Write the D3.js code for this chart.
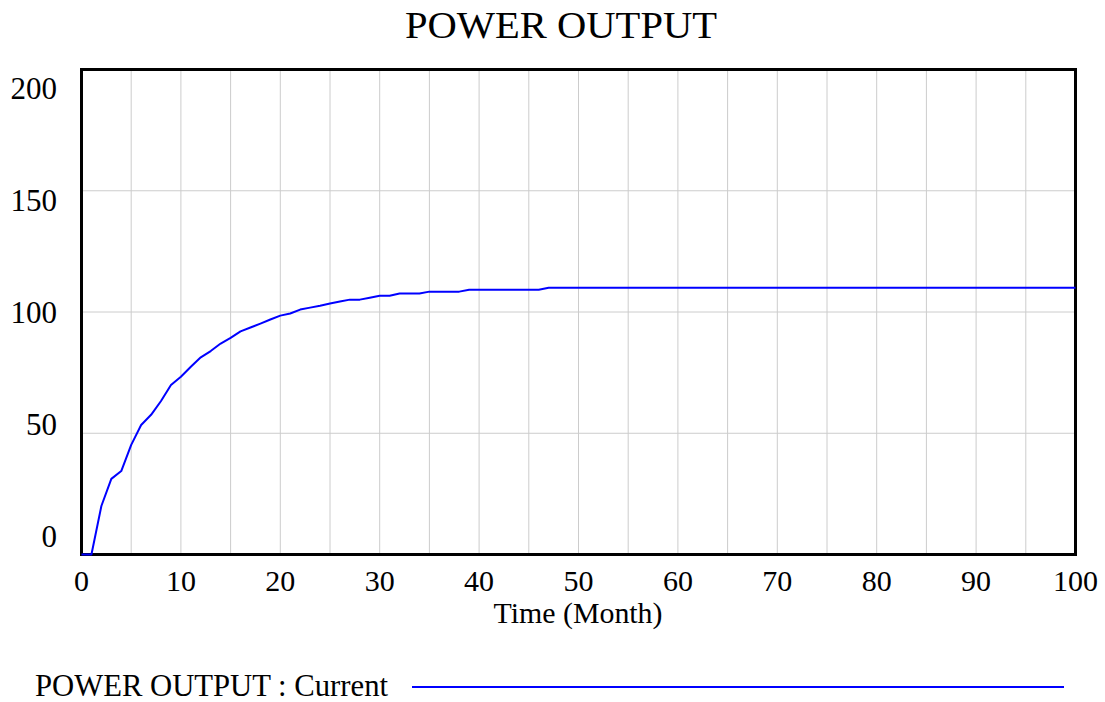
<!DOCTYPE html>
<html>
<head>
<meta charset="utf-8">
<script src="https://cdn.jsdelivr.net/npm/d3@7"></script>
<style>
  html, body { margin: 0; padding: 0; background: #fff; }
  svg { display: block; font-family: "Liberation Serif", "Times New Roman", serif; }
</style>
</head>
<body>
<svg id="chart" width="1105" height="702"></svg>
<script>
// Simulated power output per month (months 0..100)
const months = d3.range(0, 101);
const powerOutput = [
  0, 0, 20, 31.2, 34.4, 45.2, 53.4, 57.6, 63.3, 69.9,
  73.3, 77.4, 81.3, 83.9, 87.0, 89.3, 92.0, 93.6, 95.2, 96.9,
  98.5, 99.4, 101.0, 101.8, 102.6, 103.5, 104.3, 105.1, 105.1, 105.9,
  106.7, 106.7, 107.6, 107.6, 107.6, 108.4, 108.4, 108.4, 108.4, 109.2,
  109.2, 109.2, 109.2, 109.2, 109.2, 109.2, 109.2, 110, 110, 110,
  110, 110, 110, 110, 110, 110, 110, 110, 110, 110,
  110, 110, 110, 110, 110, 110, 110, 110, 110, 110,
  110, 110, 110, 110, 110, 110, 110, 110, 110, 110,
  110, 110, 110, 110, 110, 110, 110, 110, 110, 110,
  110, 110, 110, 110, 110, 110, 110, 110, 110, 110,
  110
];
const xTicks = [0, 10, 20, 30, 40, 50, 60, 70, 80, 90, 100];
const yTicks = [0, 50, 100, 150, 200];
const xGrid = d3.range(0, 101, 5);
const yGrid = [50, 100, 150];

const chartTitle = "POWER OUTPUT";
const xTitle = "Time (Month)";
const legendLabel = "POWER OUTPUT : Current";

const svg = d3.select("#chart");
const plot = { left: 81.5, right: 1075.5, top: 69.5, bottom: 554.5 };

const x = d3.scaleLinear().domain([0, 100]).range([plot.left, plot.right]);
const y = d3.scaleLinear().domain([0, 200]).range([plot.bottom, plot.top]);
// value labels sit evenly spread inside the plot height
const yLabel = d3.scaleLinear().domain([0, 200]).range([547, 99]);

// gridlines
svg.append("g").selectAll("line").data(xGrid).join("line")
  .attr("x1", d => x(d)).attr("x2", d => x(d))
  .attr("y1", plot.top).attr("y2", plot.bottom)
  .attr("stroke", "#cccccc").attr("stroke-width", 1);
svg.append("g").selectAll("line").data(yGrid).join("line")
  .attr("x1", plot.left).attr("x2", plot.right)
  .attr("y1", d => y(d)).attr("y2", d => y(d))
  .attr("stroke", "#cccccc").attr("stroke-width", 1);

// frame
svg.append("rect")
  .attr("x", plot.left).attr("y", plot.top)
  .attr("width", plot.right - plot.left).attr("height", plot.bottom - plot.top)
  .attr("fill", "none").attr("stroke", "#000").attr("stroke-width", 3);

// series line
const line = d3.line().x((d, i) => x(months[i])).y(d => y(d));
svg.append("path")
  .datum(powerOutput)
  .attr("d", line)
  .attr("fill", "none")
  .attr("stroke", "#0000ff")
  .attr("stroke-width", 2)
  .attr("stroke-linejoin", "round");

// title
svg.append("text")
  .attr("x", 561).attr("y", 38)
  .attr("text-anchor", "middle")
  .attr("font-size", 38)
  .attr("textLength", 312).attr("lengthAdjust", "spacingAndGlyphs")
  .text(chartTitle);

// y tick labels
svg.append("g").selectAll("text").data(yTicks).join("text")
  .attr("x", 57).attr("y", d => yLabel(d))
  .attr("text-anchor", "end")
  .attr("font-size", 31)
  .text(d => d);

// x tick labels
svg.append("g").selectAll("text").data(xTicks).join("text")
  .attr("x", d => x(d)).attr("y", 591)
  .attr("text-anchor", "middle")
  .attr("font-size", 30)
  .text(d => d);

// x axis title
svg.append("text")
  .attr("x", 578).attr("y", 623)
  .attr("text-anchor", "middle")
  .attr("font-size", 29)
  .attr("textLength", 169).attr("lengthAdjust", "spacingAndGlyphs")
  .text(xTitle);

// legend
svg.append("text")
  .attr("x", 35).attr("y", 696)
  .attr("font-size", 32)
  .attr("textLength", 353).attr("lengthAdjust", "spacingAndGlyphs")
  .text(legendLabel);
svg.append("line")
  .attr("x1", 412).attr("x2", 1064)
  .attr("y1", 687).attr("y2", 687)
  .attr("stroke", "#0000ff").attr("stroke-width", 2);
</script>
</body>
</html>
